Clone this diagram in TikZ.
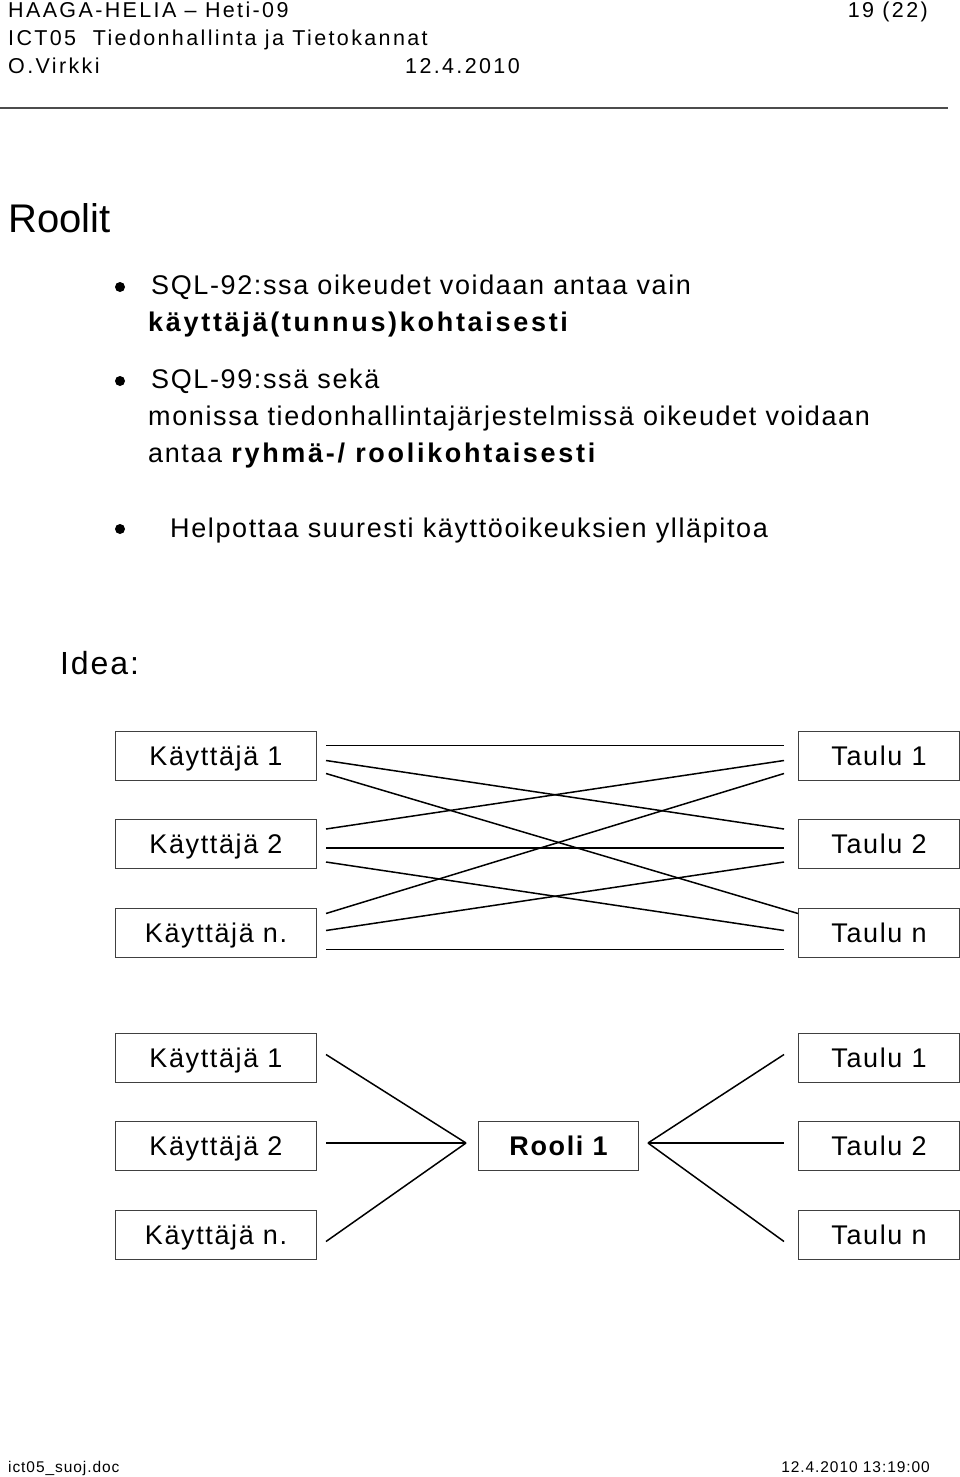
\documentclass[tikz,border=0pt]{standalone}
\usepackage{fontspec}
\setmainfont{Liberation Sans}
\newfontfamily\hdrfont[LetterSpace=11]{Liberation Sans}
\newfontfamily\footfont[LetterSpace=6]{Liberation Sans}
\newfontfamily\bodyfont[LetterSpace=6]{Liberation Sans}
\newfontfamily\keyfont[LetterSpace=10]{Liberation Sans Bold}
\usetikzlibrary{positioning}

\begin{document}
\begin{tikzpicture}[
		x=1pt, y=-1pt,
		% Style definitions
		hdr/.style={anchor=base west, inner sep=0pt, font=\hdrfont\fontsize{21.5}{24}\selectfont},
		foot/.style={anchor=base west, inner sep=0pt, font=\footfont\fontsize{15.5}{18}\selectfont},
		txt/.style={anchor=base west, inner sep=0pt, font=\bodyfont\fontsize{27}{32}\selectfont},
		bulletdot/.style={circle, fill=black, inner sep=0pt, minimum size=10pt},
		box/.style={draw=black!75, line width=1pt, minimum height=49pt, inner sep=0pt,
			text height=25pt, text depth=6pt, font=\bodyfont\fontsize{27}{32}\selectfont},
		userbox/.style={box, minimum width=201pt},
		tblbox/.style={box, minimum width=161pt},
		rolebox/.style={box, minimum width=160pt, font=\bodyfont\fontsize{27}{32}\selectfont\bfseries},
		link/.style={line width=1.5pt},
		node distance=38pt and 481pt,
		]
		\useasboundingbox[fill=white] (0,0) rectangle (960,1477);

		% === Page header ===
		\node[hdr] (hdr-school) at (8,18) {HAAGA-HELIA – Heti-09};
		\node[hdr, anchor=base east] (hdr-page) at (928,18) {19 (22)};
		\node[hdr] (hdr-course) at (8,46) {ICT05\ \ Tiedonhallinta ja Tietokannat};
		\node[hdr] (hdr-author) at (8,74) {O.Virkki};
		\node[hdr] (hdr-date) at (405,74) {12.4.2010};
		\draw[line width=1.5pt, black!70] (0,108) -- (948,108);

		% === Title and bullets ===
		\node[anchor=base west, inner sep=0pt, font=\fontsize{40}{46}\selectfont] (title) at (8,232) {Roolit};

		\node[bulletdot] (dot1) at (120,287) {};
		\node[txt] (sql92) at (151,294) {SQL-92:ssa oikeudet voidaan antaa vain};
		\node[txt] (sql92b) at (148,331) {\keyfont käyttäjä(tunnus)kohtaisesti};

		\node[bulletdot] (dot2) at (120,381) {};
		\node[txt] (sql99) at (151,388) {SQL-99:ssä sekä};
		\node[txt] (sql99b) at (148,425) {monissa tiedonhallintajärjestelmissä oikeudet voidaan};
		\node[txt] (sql99c) at (148,462) {antaa {\keyfont ryhmä-/ roolikohtaisesti}};

		\node[bulletdot] (dot3) at (120,529) {};
		\node[txt] (easy) at (170,537) {Helpottaa suuresti käyttöoikeuksien ylläpitoa};

		\node[txt, font=\bodyfont\fontsize{32}{38}\selectfont] (idea) at (60,674) {Idea:};

		% === Without roles: every user to every table ===
		\node[userbox, anchor=north west] (k1) at (115,731) {Käyttäjä 1};
		\node[userbox, below=38pt of k1] (k2) {Käyttäjä 2};
		\node[userbox, below=39pt of k2] (kn) {Käyttäjä n.};
		\node[tblbox, right=of k1] (t1) {Taulu 1};
		\node[tblbox, right=of k2] (t2) {Taulu 2};
		\node[tblbox, right=of kn] (tn) {Taulu n};

		\draw[link] ([xshift=9pt,yshift=10.5pt]k1.east) -- ([xshift=-14pt,yshift=10.5pt]t1.west);
		\draw[link] ([xshift=9pt,yshift=-4.5pt]k1.east) -- ([xshift=-14pt,yshift=15pt]t2.west);
		\draw[link] ([xshift=9pt,yshift=-17.5pt]k1.east) -- ([yshift=19.5pt]tn.west);
		\draw[link] ([xshift=9pt,yshift=15pt]k2.east) -- ([xshift=-14pt,yshift=-4.5pt]t1.west);
		\draw[link] ([xshift=9pt,yshift=-4pt]k2.east) -- ([xshift=-14pt,yshift=-4pt]t2.west);
		\draw[link] ([xshift=9pt,yshift=-18pt]k2.east) -- ([xshift=-14pt,yshift=2.5pt]tn.west);
		\draw[link] ([xshift=9pt,yshift=19.5pt]kn.east) -- ([xshift=-14pt,yshift=-17.5pt]t1.west);
		\draw[link] ([xshift=9pt,yshift=2.5pt]kn.east) -- ([xshift=-14pt,yshift=-18pt]t2.west);
		\draw[link] ([xshift=9pt,yshift=-16.5pt]kn.east) -- ([xshift=-14pt,yshift=-16.5pt]tn.west);

		% === With a role in between ===
		\node[userbox, below=75pt of kn] (rk1) {Käyttäjä 1};
		\node[userbox, below=38pt of rk1] (rk2) {Käyttäjä 2};
		\node[userbox, below=39pt of rk2] (rkn) {Käyttäjä n.};
		\node[rolebox, right=161pt of rk2] (rooli) {Rooli 1};
		\node[tblbox, right=of rk1] (rt1) {Taulu 1};
		\node[tblbox, right=of rk2] (rt2) {Taulu 2};
		\node[tblbox, right=of rkn] (rtn) {Taulu n};

		\draw[link] ([xshift=9pt,yshift=3.5pt]rk1.east) -- ([xshift=-12pt,yshift=3pt]rooli.west);
		\draw[link] ([xshift=9pt,yshift=3pt]rk2.east) -- ([xshift=-12pt,yshift=3pt]rooli.west);
		\draw[link] ([xshift=9pt,yshift=-6.5pt]rkn.east) -- ([xshift=-12pt,yshift=3pt]rooli.west);
		\draw[link] ([xshift=9pt,yshift=3pt]rooli.east) -- ([xshift=-14pt,yshift=3.5pt]rt1.west);
		\draw[link] ([xshift=9pt,yshift=3pt]rooli.east) -- ([xshift=-14pt,yshift=3pt]rt2.west);
		\draw[link] ([xshift=9pt,yshift=3pt]rooli.east) -- ([xshift=-14pt,yshift=-6.5pt]rtn.west);

		% === Page footer ===
		\node[foot] (foot-file) at (8,1472) {ict05\_suoj.doc};
		\node[foot, anchor=base east] (foot-stamp) at (930,1472) {12.4.2010 13:19:00};
	\end{tikzpicture}
\end{document}
